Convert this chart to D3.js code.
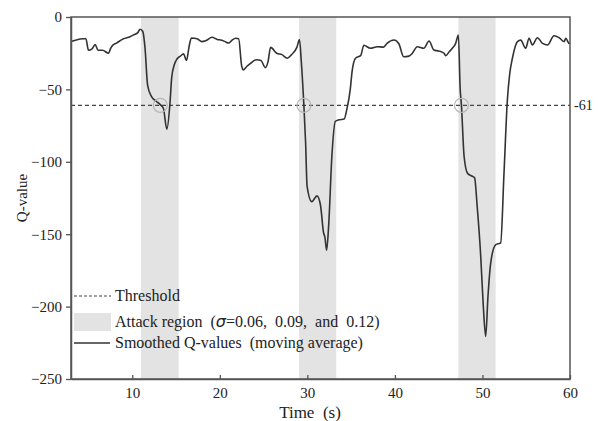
<!DOCTYPE html>
<html>
<head>
<meta charset="utf-8">
<script src="https://cdn.jsdelivr.net/npm/d3@7"></script>
<style>
  body { margin: 0; background: #fff; }
  text { font-family: "Liberation Serif", "Times New Roman", serif; fill: #222; }
</style>
</head>
<body>
<svg width="598" height="421"></svg>
<script>
// Smoothed Q-values.
var times = [3.0, 3.5, 4.4, 4.7, 5.0, 5.4, 5.75, 6.1, 6.6, 7.3, 7.5, 7.7, 8.2, 9.0, 9.6, 10.1, 10.6, 10.9, 11.2,
    11.45, 11.75, 12.2, 12.7, 13.2, 13.55, 13.95, 14.3, 14.5, 14.8, 15.1, 15.5, 15.85, 16.2, 16.5, 16.75,
    17.4, 17.95, 18.5, 19.1, 19.7, 20.2, 20.6, 21.0, 21.4, 21.8, 22.15, 22.5, 22.7, 23.1, 23.5, 24.2, 24.7,
    25.2, 25.5, 25.8, 26.5, 27.1, 27.7, 28.2, 28.8, 29.1, 29.3, 29.6, 29.8, 29.97, 30.5, 31.1, 31.5, 31.85,
    32.0, 32.2, 32.45, 32.8, 33.2, 33.6, 34.2, 34.5, 34.9, 35.1, 35.5, 36.1, 36.45, 37.2, 38.0, 38.7, 39.1,
    39.9, 40.45, 41.0, 41.6, 42.0, 42.55, 43.3, 43.9, 44.45, 45.0, 45.6, 45.8, 46.2, 46.56, 46.94, 47.25,
    47.45, 47.6, 47.9, 48.3, 48.85, 49.1, 49.4, 49.8, 50.1, 50.37, 50.63, 50.94, 51.5, 52.08, 52.46, 52.85,
    53.1, 53.42, 54.0, 54.37, 54.94, 55.32, 55.7, 56.28, 56.86, 57.43, 58.18, 58.76, 59.33, 59.52, 59.9, 60];
var qValues = [-17, -16, -15, -15, -23, -22, -19, -23, -23, -25, -22, -20, -18, -15, -14, -12.5, -11, -8.5, -10,
    -21, -47, -55, -58, -60.5, -63, -77.5, -60, -42, -33, -29, -27, -25.5, -30, -20, -14.5,
    -15, -17, -16, -14, -15.5, -16, -17, -18, -16, -14.7, -15, -34, -36.5, -34, -32, -29.5, -30,
    -35, -31, -21, -25, -26, -28.5, -26, -21, -15.5, -30, -61, -87, -117, -127.5, -123.5, -130, -149,
    -152, -161, -142, -96, -72, -71, -70.5, -64, -50, -38, -28.5, -26.5, -19.5, -21.6, -20.5, -20.8, -18.2,
    -15.9, -18.5, -27.4, -27, -25, -20.5, -21.6, -16.6, -22.8, -23.5, -25, -26.7, -24, -21.6, -18.2, -12.4,
    -49, -61, -96, -108, -110, -111, -131, -165, -200, -220.6, -193, -170, -157.3, -156, -108, -57,
    -40, -28.5, -17, -16, -21.6, -14.7, -19.3, -14.3, -18.2, -19.3, -12.9, -14.3, -17, -14.7, -18.2, -18];

var attackStart = [11, 29.05, 47.25];
var attackEnd = [15.3, 33.3, 51.5];
var crossTimes = [13.2, 29.6, 47.6];
var threshold = -61;

var xTicks = [10, 20, 30, 40, 50, 60];
var yTicks = [0, -50, -100, -150, -200, -250];

var svg = d3.select("svg");
var margin = {top: 17, right: 28, bottom: 42, left: 71};
var width = 598 - margin.left - margin.right;
var height = 421 - margin.top - margin.bottom;

var x = d3.scaleLinear().domain([3, 60]).range([0, width]);
var y = d3.scaleLinear().domain([-250, 0]).range([height, 0]);

var g = svg.append("g").attr("transform", "translate(" + margin.left + "," + margin.top + ")");

// attack shading
g.selectAll("rect.attack")
    .data(attackStart)
    .enter().append("rect")
    .attr("class", "attack")
    .attr("x", function (d) { return x(d); })
    .attr("y", 0)
    .attr("width", function (d, i) { return x(attackEnd[i]) - x(d); })
    .attr("height", height)
    .style("fill", "#e3e3e3");

// threshold
g.append("line")
    .attr("x1", 0).attr("x2", width)
    .attr("y1", y(threshold)).attr("y2", y(threshold))
    .attr("stroke", "#444").attr("stroke-width", 1.2)
    .attr("stroke-dasharray", "4,3");

g.append("text")
    .attr("x", width + 4).attr("y", y(threshold))
    .attr("dy", "0.35em")
    .style("font-size", "14px")
    .text("-61");

// curve
var line = d3.line()
    .x(function (d) { return x(d[0]); })
    .y(function (d) { return y(d[1]); })
    .curve(d3.curveMonotoneX);

g.append("path")
    .datum(d3.zip(times, qValues))
    .attr("d", line)
    .attr("fill", "none")
    .attr("stroke", "#333")
    .attr("stroke-width", 1.6);

// crossing circles
g.selectAll("circle.cross")
    .data(crossTimes)
    .enter().append("circle")
    .attr("cx", function (d) { return x(d); })
    .attr("cy", y(threshold))
    .attr("r", 7)
    .attr("fill", "none")
    .attr("stroke", "#b5b5b5")
    .attr("stroke-width", 1.2);

// frame
g.append("rect")
    .attr("width", width).attr("height", height)
    .attr("fill", "none").attr("stroke", "#555").attr("stroke-width", 1.5);

// axes
var xAxis = g.append("g")
    .attr("transform", "translate(0," + height + ")")
    .call(d3.axisBottom(x).tickValues(xTicks).tickSizeInner(-4).tickSizeOuter(0).tickPadding(8));
var yAxis = g.append("g")
    .call(d3.axisLeft(y).tickValues(yTicks).tickSizeInner(5).tickSizeOuter(0).tickPadding(4)
        .tickFormat(function (d) { return d3.format("")(d).replace("-", "\u2212"); }));

[xAxis, yAxis].forEach(function (a) {
    a.select(".domain").attr("stroke", "#555").attr("stroke-width", 1.5);
    a.selectAll(".tick line").attr("stroke", "#555").attr("stroke-width", 1.3);
    a.selectAll(".tick text").style("font-size", "15px").style("font-family", "Liberation Serif, serif").attr("fill", "#222");
});

// axis titles
svg.append("text")
    .attr("transform", "translate(22," + (margin.top + height / 2) + ") rotate(-90)")
    .attr("text-anchor", "middle")
    .attr("dy", "0.35em")
    .style("font-size", "15px")
    .text("Q-value");

svg.append("text")
    .attr("x", 310).attr("y", 418)
    .attr("text-anchor", "middle")
    .style("font-size", "17px")
    .style("white-space", "pre")
    .text("Time  (s)");

// legend
var lg = svg.append("g");
lg.append("line")
    .attr("x1", 74).attr("x2", 111).attr("y1", 296).attr("y2", 296)
    .attr("stroke", "#444").attr("stroke-width", 1.2).attr("stroke-dasharray", "3,2");
lg.append("text").attr("x", 115).attr("y", 301).style("font-size", "16px").text("Threshold");

lg.append("rect")
    .attr("x", 74).attr("y", 313).attr("width", 37).attr("height", 18)
    .style("fill", "#e3e3e3");
var t2 = lg.append("text").attr("x", 115).attr("y", 327).style("font-size", "16px")
    .style("white-space", "pre");
t2.append("tspan").text("Attack region  (");
t2.append("tspan").style("font-family", "DejaVu Sans, sans-serif").style("font-style", "italic").text("\u03C3");
t2.append("tspan").text("=0.06,  0.09,  and  0.12)");

lg.append("line")
    .attr("x1", 74).attr("x2", 110).attr("y1", 343).attr("y2", 343)
    .attr("stroke", "#333").attr("stroke-width", 1.6);
lg.append("text").attr("x", 115).attr("y", 348).style("font-size", "16px")
    .style("white-space", "pre").text("Smoothed Q-values  (moving average)");
</script>
</body>
</html>
